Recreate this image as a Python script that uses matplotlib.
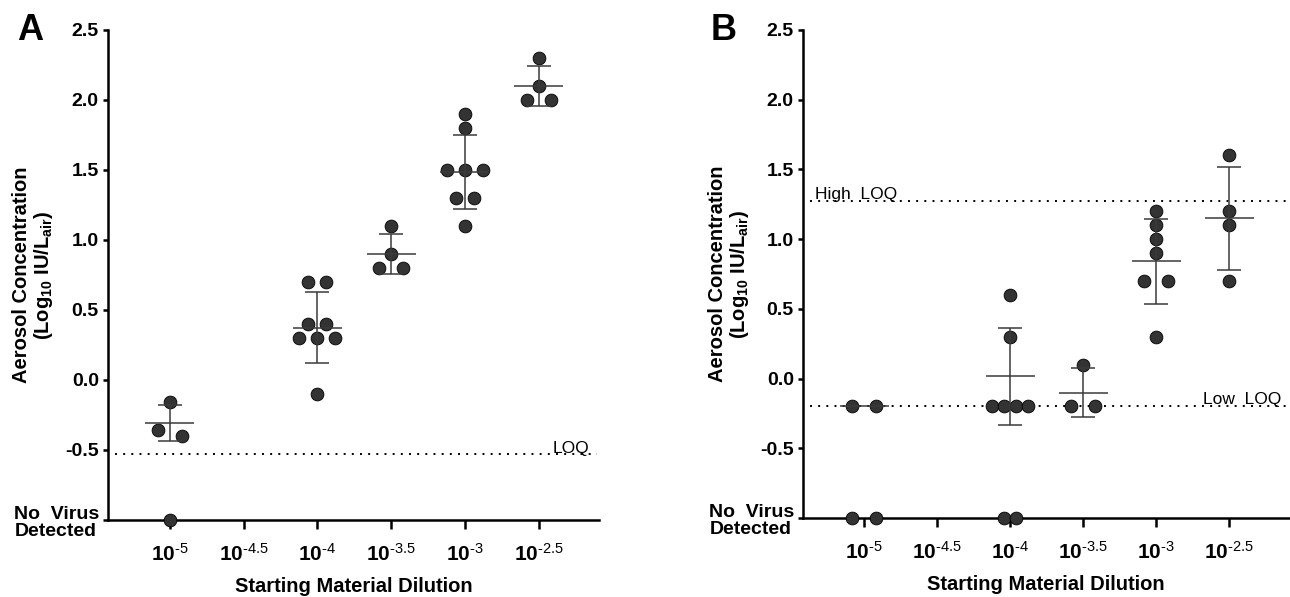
"""
plot.py
-------
Aerosol concentration vs starting material dilution, two panels (A, B).
"""
import numpy as np
import matplotlib
matplotlib.use("Agg")
import matplotlib.pyplot as plt

plt.rcParams["font.family"] = ["Liberation Sans", "DejaVu Sans"]
plt.rcParams["mathtext.fontset"] = "custom"
plt.rcParams["mathtext.rm"] = "Liberation Sans"
plt.rcParams["mathtext.it"] = "Liberation Sans:italic"
plt.rcParams["mathtext.bf"] = "Liberation Sans:bold"
plt.rcParams["axes.unicode_minus"] = False

# === Data ===
ND = None  # no virus detected
ND_LEVEL = -1.0

dilutions = [-5.0, -4.5, -4.0, -3.5, -3.0, -2.5]
dilution_labels = [r"$\mathbf{10}^{\text{-5}}$", r"$\mathbf{10}^{\text{-4.5}}$",
                   r"$\mathbf{10}^{\text{-4}}$", r"$\mathbf{10}^{\text{-3.5}}$",
                   r"$\mathbf{10}^{\text{-3}}$", r"$\mathbf{10}^{\text{-2.5}}$"]
y_ticks = [-1.0, -0.5, 0.0, 0.5, 1.0, 1.5, 2.0, 2.5]
y_tick_labels = ["", "-0.5", "0.0", "0.5", "1.0", "1.5", "2.0", "2.5"]

# panel A
a_m5 = [-0.16, -0.36, -0.40, ND]
a_m4 = [0.7, 0.7, 0.4, 0.4, 0.3, 0.3, 0.3, -0.1]
a_m35 = [1.1, 0.9, 0.8, 0.8]
a_m3 = [1.9, 1.8, 1.5, 1.5, 1.5, 1.3, 1.3, 1.1]
a_m25 = [2.3, 2.1, 2.0, 2.0]
a_loq = -0.53

# panel B
b_m5 = [-0.2, -0.2, ND, ND]
b_m4 = [0.6, 0.3, -0.2, -0.2, -0.2, -0.2, ND, ND]
b_m35 = [0.1, -0.2, -0.2]
b_m3 = [1.2, 1.1, 1.0, 0.9, 0.7, 0.7, 0.3]
b_m25 = [1.6, 1.2, 1.1, 0.7]
b_low_loq = -0.2
b_high_loq = 1.27

FIG_W, FIG_H = 1290, 597
XLIM = (-5.42, -2.09)
YLIM = (-1.0, 2.5)
DOT = "#333333"
BAR = "#3a3a3a"


def swarm(values, x_per_px):
    """Place points side by side when they share (nearly) the same value."""
    y = np.array([ND_LEVEL if v is None else v for v in values], dtype=float)
    order = np.argsort(-y, kind="stable")
    rows = []
    for i in order:
        if rows and abs(y[rows[-1][-1]] - y[i]) < 0.05:
            rows[-1].append(i)
        else:
            rows.append([i])
    widest = max(len(r) for r in rows)
    step = 24 if widest < 3 else 36 / (widest - 1)
    off = np.zeros(len(y))
    for r in rows:
        for k, i in enumerate(r):
            off[i] = (k - (len(r) - 1) / 2) * step * x_per_px
    return y, off


def draw_panel(fig, rect, groups, letter, letter_x):
    ax = fig.add_axes(rect)
    ax.set_xlim(*XLIM)
    ax.set_ylim(*YLIM)
    x_per_px = (XLIM[1] - XLIM[0]) / (rect[2] * FIG_W)

    for x, values in groups.items():
        y, off = swarm(values, x_per_px)
        ax.scatter(x + off, y, s=9.2 ** 2, c=DOT, edgecolors="black",
                   linewidths=0.6, zorder=3, clip_on=False)

        detected = np.array([v for v in values if v is not None])
        mean = detected.mean()
        sd = detected.std(ddof=1) if len(detected) > 1 else 0.0
        ax.hlines(mean, x - 24.5 * x_per_px, x + 24.5 * x_per_px,
                  color=BAR, lw=1.1, zorder=4)
        if sd > 0:
            ax.vlines(x, mean - sd, mean + sd, color=BAR, lw=1.1, zorder=4)
            ax.hlines([mean - sd, mean + sd], x - 12 * x_per_px, x + 12 * x_per_px,
                      color=BAR, lw=1.1, zorder=4)

    for side in ["top", "right"]:
        ax.spines[side].set_visible(False)
    for side in ["left", "bottom"]:
        ax.spines[side].set_linewidth(1.8)

    ax.set_xticks(dilutions)
    ax.set_xticklabels(dilution_labels, fontsize=15)
    ax.set_yticks(y_ticks)
    ax.set_yticklabels(y_tick_labels, fontsize=14, fontweight="bold")
    ax.tick_params(axis="x", length=6.5, width=1.8, pad=10)
    ax.tick_params(axis="y", length=3.6, width=1.8, pad=3)

    ax.set_xlabel("Starting Material Dilution", fontsize=14.5, fontweight="bold")
    ax.xaxis.set_label_coords(0.5, -0.116)
    ax.text(-0.151, 0.5, "Aerosol Concentration\n" +
            r"(Log$_{\mathbf{10}}$ IU/L$_{\mathbf{air}}$)",
            transform=ax.transAxes, rotation=90, ha="center", va="center",
            multialignment="center", fontsize=14.5, fontweight="bold",
            linespacing=1.05)
    ax.annotate("No  Virus\nDetected", xy=(0, ND_LEVEL),
                xycoords=("axes fraction", "data"), xytext=(-6, -2.5),
                textcoords="offset points", ha="right", va="center",
                multialignment="left", fontsize=14, fontweight="bold",
                linespacing=1.0)

    fig.text(letter_x / FIG_W, 1 - 30 / FIG_H, letter, fontsize=26,
             fontweight="bold", ha="left", va="center")
    return ax


fig = plt.figure(figsize=(FIG_W / 100, FIG_H / 100), dpi=100)

a_groups = {-5.0: a_m5, -4.0: a_m4, -3.5: a_m35, -3.0: a_m3, -2.5: a_m25}
ax_a = draw_panel(fig, [108 / FIG_W, 77 / FIG_H, 491 / FIG_W, 490 / FIG_H],
                  a_groups, "A", 17)
ax_a.axhline(a_loq, xmin=0.015, xmax=0.995, color="black", lw=1.4,
             ls=(0, (1, 3.2)))
ax_a.text(-2.153, a_loq + 0.012, "LOQ", ha="right", va="baseline", fontsize=12.5)

b_groups = {-5.0: b_m5, -4.0: b_m4, -3.5: b_m35, -3.0: b_m3, -2.5: b_m25}
ax_b = draw_panel(fig, [803 / FIG_W, 79 / FIG_H, 486 / FIG_W, 488 / FIG_H],
                  b_groups, "B", 711)
for level in [b_low_loq, b_high_loq]:
    ax_b.axhline(level, xmin=0.015, xmax=1.0, color="black", lw=1.4,
                 ls=(0, (1, 3.2)))
ax_b.text(-5.336, b_high_loq + 0.015, "High  LOQ", ha="left", va="baseline",
          fontsize=12.5)
ax_b.text(-2.144, b_low_loq + 0.015, "Low  LOQ", ha="right", va="baseline",
          fontsize=12.5)

fig.savefig("out.png", dpi=100)
